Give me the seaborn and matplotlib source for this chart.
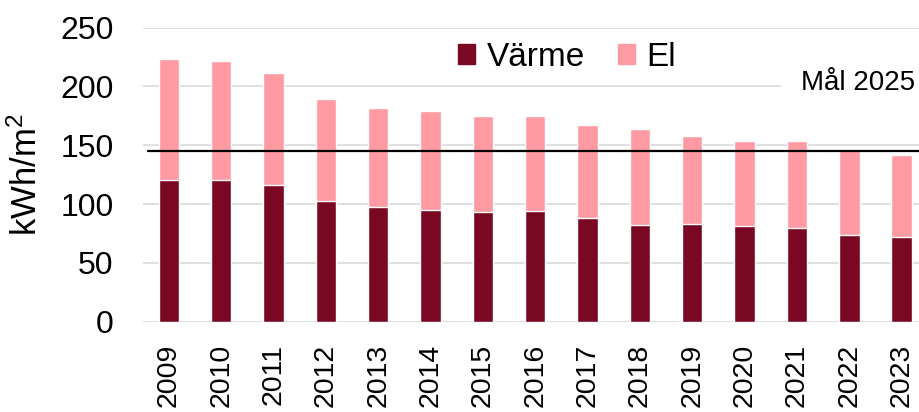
import matplotlib
matplotlib.use("Agg")
import matplotlib.pyplot as plt
import seaborn as sns
from matplotlib.patches import Patch

years = ["2009", "2010", "2011", "2012", "2013", "2014", "2015", "2016",
         "2017", "2018", "2019", "2020", "2021", "2022", "2023"]
varme = [120.5, 120.5, 116, 103, 97.5, 95, 93, 94, 88, 82, 83.5, 81, 80, 74, 72]
el = [102.5, 101, 95.5, 86.5, 84.5, 84, 81.5, 80.5, 79, 82, 74.5, 72.5, 73.5, 72, 69.5]
target = 145
target_label = "Mål 2025"

VARME_COLOR = "#7a0822"
EL_COLOR = "#ff9aa2"

sns.set_style("white")
plt.rcParams['font.family'] = ['Liberation Sans', 'DejaVu Sans']
plt.rcParams['mathtext.fontset'] = 'custom'
plt.rcParams['mathtext.rm'] = 'Liberation Sans'
plt.rcParams['mathtext.it'] = 'Liberation Sans'
plt.rcParams.update({'text.color': 'black', 'axes.labelcolor': 'black',
                     'xtick.color': 'black', 'ytick.color': 'black'})

fig = plt.figure(figsize=(9.2, 4.12), dpi=100)
ax = fig.add_axes([0.155, 0.219, 0.845, 0.714])

total = [v + e for v, e in zip(varme, el)]
sns.barplot(x=years, y=total, color=EL_COLOR, saturation=1, width=0.39, ax=ax)
sns.barplot(x=years, y=varme, color=VARME_COLOR, saturation=1, width=0.39, ax=ax)

ax.axhline(target, xmin=0.007, color="black", lw=1.6, zorder=3)
ax.text(14.25, 203, target_label, ha="right", va="center", fontsize=20,
        zorder=4, bbox=dict(boxstyle="square,pad=0.7", fc="white", ec="none"))

ax.set_xlim(-0.5, 14.35)
ax.set_ylim(0, 250)
ax.set_yticks(range(0, 251, 50))
ax.yaxis.grid(True, color="#d9d9d9", lw=1.2)
ax.xaxis.grid(False)
ax.set_axisbelow(True)
sns.despine(ax=ax, left=True, bottom=True)

ax.tick_params(axis="y", length=0, pad=21, labelsize=23)
ax.tick_params(axis="x", length=0, pad=16, labelsize=20.5, rotation=90)
ax.set_xlabel("")
ax.set_ylabel("kWh/m$^2$", fontsize=25)
ax.yaxis.set_label_coords(-0.127, 0.5)

handles = [Patch(color=VARME_COLOR, label="Värme"), Patch(color=EL_COLOR, label="El")]
ax.legend(handles=handles, loc="center", bbox_to_anchor=(0.546, 0.90), ncol=2,
          frameon=False, fontsize=24, handlelength=0.5, handleheight=0.55,
          handletextpad=0.35, columnspacing=1.0, borderaxespad=0)

fig.savefig("out.png", dpi=100)
